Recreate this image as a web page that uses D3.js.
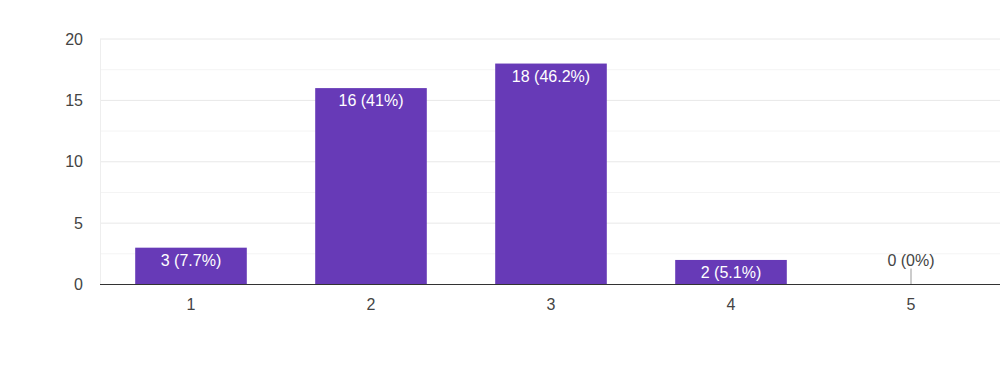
<!DOCTYPE html>
<html>
<head>
<meta charset="utf-8">
<script src="https://cdn.jsdelivr.net/npm/d3@7"></script>
<style>
  body { margin: 0; background: #fff; }
  text { font-family: "Liberation Sans", Arial, sans-serif; }
</style>
</head>
<body>
<div id="container"></div>
<script>
// data
const categories = ["1", "2", "3", "4", "5"];
const counts = [3, 16, 18, 2, 0];
const labels = ["3 (7.7%)", "16 (41%)", "18 (46.2%)", "2 (5.1%)", "0 (0%)"];
const yTicks = [0, 5, 10, 15, 20];
const yMinor = [2.5, 7.5, 12.5, 17.5];

const width = 1000;
const height = 387;

const svg = d3.select("#container").append("svg")
  .attr("width", width)
  .attr("height", height);

const x = d3.scaleBand()
  .domain(categories)
  .range([101, 1001])
  .paddingInner(0.38)
  .paddingOuter(0.19);

const y = d3.scaleLinear()
  .domain([0, 20])
  .range([284.5, 39]);

// minor gridlines
svg.append("g").selectAll("line")
  .data(yMinor)
  .join("line")
  .attr("x1", 100).attr("x2", width)
  .attr("y1", d => y(d)).attr("y2", d => y(d))
  .attr("stroke", "#f4f4f4");

// major gridlines
svg.append("g").selectAll("line")
  .data(yTicks.filter(d => d > 0))
  .join("line")
  .attr("x1", 100).attr("x2", width)
  .attr("y1", d => y(d)).attr("y2", d => y(d))
  .attr("stroke", "#e8e8e8");

// left edge
svg.append("line")
  .attr("x1", 100.5).attr("x2", 100.5)
  .attr("y1", y(20)).attr("y2", y(0))
  .attr("stroke", "#eeeeee");

// y labels
svg.append("g").selectAll("text")
  .data(yTicks)
  .join("text")
  .attr("x", 83)
  .attr("y", d => y(d))
  .attr("dy", "0.35em")
  .attr("text-anchor", "end")
  .attr("font-size", 16)
  .attr("fill", "#444")
  .text(d => d);

// bars
svg.append("g").selectAll("rect")
  .data(categories)
  .join("rect")
  .attr("x", d => x(d))
  .attr("width", x.bandwidth())
  .attr("y", (d, i) => y(counts[i]))
  .attr("height", (d, i) => y(0) - y(counts[i]))
  .attr("fill", "#673ab7");

// zero-value stub
svg.append("g").selectAll("line")
  .data(categories.filter((d, i) => counts[i] === 0))
  .join("line")
  .attr("x1", d => x(d) + x.bandwidth() / 2)
  .attr("x2", d => x(d) + x.bandwidth() / 2)
  .attr("y1", y(0) - 16).attr("y2", y(0))
  .attr("stroke", "#999");

// bar labels
svg.append("g").selectAll("text")
  .data(categories)
  .join("text")
  .attr("x", d => x(d) + x.bandwidth() / 2)
  .attr("y", (d, i) => counts[i] > 0 ? y(counts[i]) + 18 : y(0) - 19)
  .attr("text-anchor", "middle")
  .attr("font-size", 16)
  .attr("fill", (d, i) => counts[i] > 0 ? "#ffffff" : "#444")
  .text((d, i) => labels[i]);

// baseline
svg.append("line")
  .attr("x1", 100).attr("x2", width)
  .attr("y1", y(0)).attr("y2", y(0))
  .attr("stroke", "#333");

// x labels
svg.append("g").selectAll("text")
  .data(categories)
  .join("text")
  .attr("x", d => x(d) + x.bandwidth() / 2)
  .attr("y", 310)
  .attr("text-anchor", "middle")
  .attr("font-size", 16)
  .attr("fill", "#444")
  .text(d => d);
</script>
</body>
</html>
